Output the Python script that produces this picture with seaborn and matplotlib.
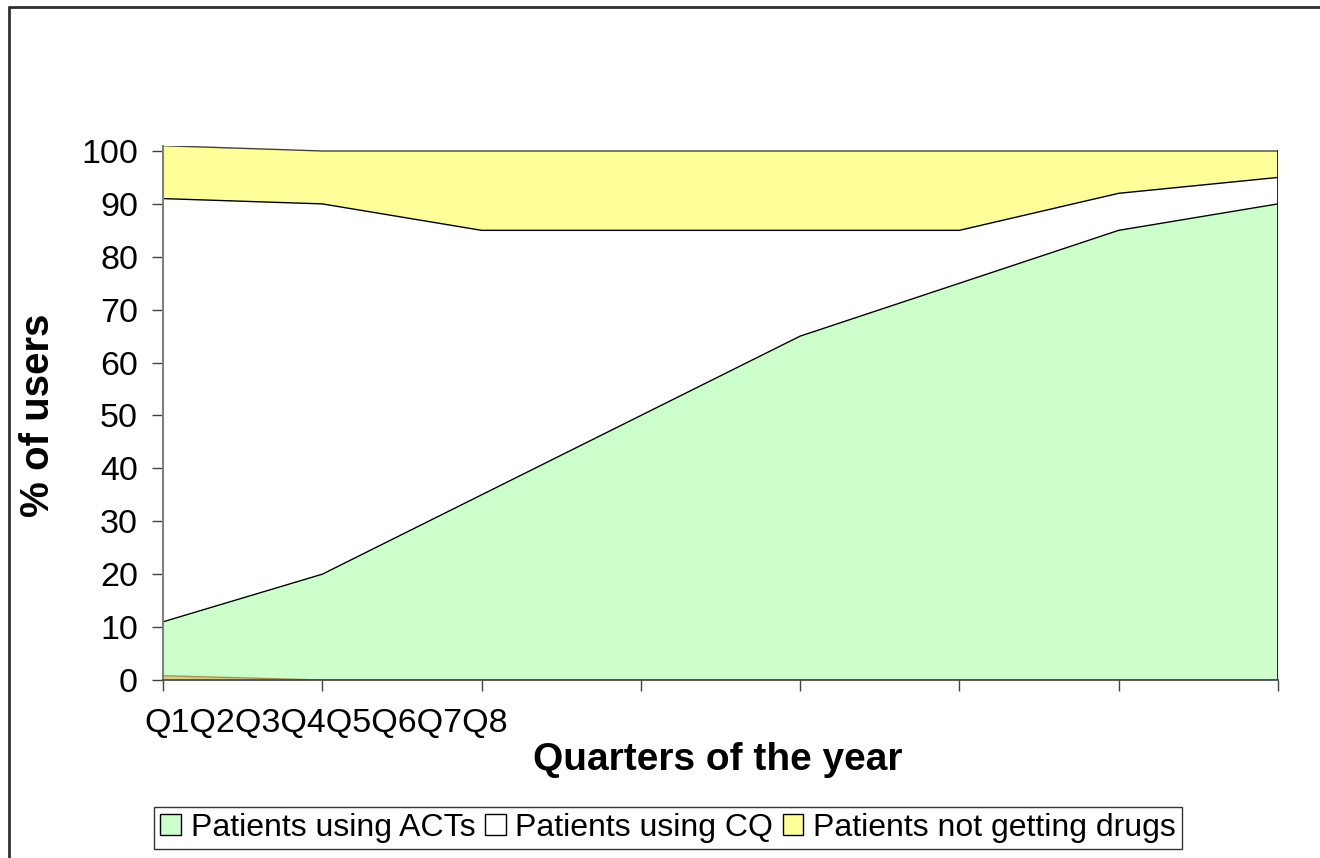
import matplotlib
matplotlib.use("Agg")
import matplotlib.pyplot as plt
from matplotlib.patches import Patch
from matplotlib.lines import Line2D
import numpy as np
import seaborn as sns

quarters = ["Q1", "Q2", "Q3", "Q4", "Q5", "Q6", "Q7", "Q8"]
residual = [0.8, 0, 0, 0, 0, 0, 0, 0]
acts = [10.2, 20, 35, 50, 65, 75, 85, 90]
cq = [80, 70, 50, 35, 20, 10, 7, 5]
no_drugs = [10, 10, 15, 15, 15, 15, 8, 5]
series_names = ["Patients using ACTs", "Patients using CQ", "Patients not getting drugs"]
series_colors = ["#CCFFCC", "#FFFFFF", "#FFFF99"]
y_ticks = list(range(0, 101, 10))

sns.set_theme(style="white")
plt.rcParams["font.family"] = ["Liberation Sans", "DejaVu Sans"]
plt.rcParams["text.color"] = "black"
plt.rcParams["axes.labelcolor"] = "black"
plt.rcParams["xtick.color"] = "black"
plt.rcParams["ytick.color"] = "black"

fig = plt.figure(figsize=(13.2, 8.58), dpi=100)
ax = fig.add_axes([163 / 1320, 1 - 680 / 858, (1278 - 163) / 1320, (680 - 145.7) / 858])

x = np.arange(len(quarters))
layers = [residual, acts, cq, no_drugs]
colors = ["#D8D080"] + series_colors
ax.stackplot(x, *layers, colors=colors, linewidth=0)

cum = np.cumsum(np.array(layers, dtype=float), axis=0)
edge_cols = ["#A09050", "black", "black", "#404040"]
for i in range(len(layers)):
    sns.lineplot(x=x, y=cum[i], ax=ax, color=edge_cols[i], linewidth=1.0, legend=False)
ax.plot([x[-1], x[-1]], [0, cum[-1][-1]], color="black", linewidth=1.2)

ax.set_xlim(x[0], x[-1])
ax.set_ylim(0, 101)
ax.set_yticks(y_ticks)
ax.set_yticklabels([str(v) for v in y_ticks], fontsize=24.5, color="black")
ax.set_xticks(x)
ax.set_xticklabels([""] * len(x))
ax.tick_params(axis="x", direction="out", length=8, width=1, color="#404040", bottom=True)
ax.tick_params(axis="y", direction="out", length=8, width=1, color="#404040", left=True, pad=10)

for s in ["top", "right"]:
    ax.spines[s].set_visible(False)
ax.spines["left"].set_color("#808080")
ax.spines["left"].set_linewidth(1.5)
ax.spines["bottom"].set_color("#404040")
ax.spines["bottom"].set_linewidth(1.2)

fig.text(38 / 1320, 1 - 415 / 858, "% of users", fontsize=29, fontweight="bold",
         rotation=90, ha="center", va="center", color="black")
fig.text(718 / 1320, 1 - 760 / 858, "Quarters of the year", fontsize=28, fontweight="bold",
         ha="center", va="center", color="black")
fig.text(144 / 1320, 1 - 724 / 858, "".join(quarters), fontsize=24.5, ha="left", va="center",
         color="black")

handles = [Patch(facecolor=c, edgecolor="black", linewidth=1) for c in series_colors]
leg = fig.legend(handles, series_names, loc="center", bbox_to_anchor=(668 / 1320, 1 - 828 / 858),
                 ncol=3, fontsize=23, frameon=True, fancybox=False, edgecolor="black",
                 handlelength=0.65, handleheight=0.65, handletextpad=0.3, columnspacing=0.3,
                 borderpad=0.2, borderaxespad=0)
leg.get_frame().set_linewidth(1.0)
for t in leg.get_texts():
    t.set_color("black")

fig.add_artist(Line2D([8.5 / 1320, 8.5 / 1320], [0, 1 - 6.5 / 858], transform=fig.transFigure,
                      color="#303030", linewidth=2))
fig.add_artist(Line2D([8.5 / 1320, 1], [1 - 6.5 / 858, 1 - 6.5 / 858], transform=fig.transFigure,
                      color="#303030", linewidth=2))

fig.savefig("out.png", dpi=100, facecolor="white")
